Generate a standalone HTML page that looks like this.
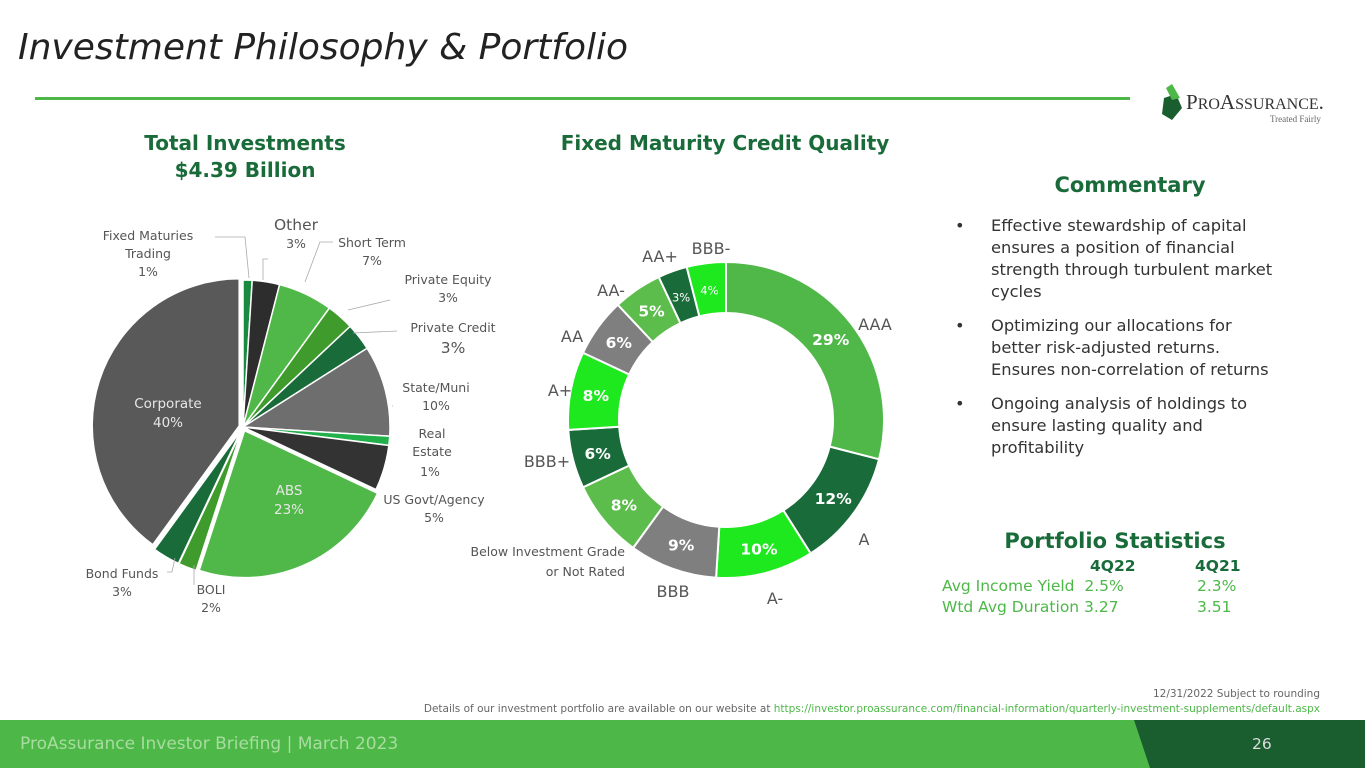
<!DOCTYPE html>
<html><head><meta charset="utf-8">
<style>
body{margin:0;width:1365px;height:768px;overflow:hidden;background:#fff;font-family:"DejaVu Sans","Liberation Sans",sans-serif;position:relative}
.abs{position:absolute}
svg text{font-family:"DejaVu Sans","Liberation Sans",sans-serif}
</style></head>
<body>
<div class="abs" style="left:18px;top:27px;font-size:36px;font-style:italic;color:#222">Investment Philosophy &amp; Portfolio</div>
<div class="abs" style="left:35px;top:97px;width:1095px;height:3px;background:#4db848"></div>
<div class="abs" style="left:1158px;top:84px;width:175px;height:40px">
<svg width="30" height="40" style="position:absolute;left:0;top:0"><polygon points="6,14 18,10 24,24 14,36 4,30" fill="#1a5e30"/><polygon points="8,4 14,0 22,14 14,16" fill="#4db848"/></svg>
<div class="abs" style="left:28px;top:6px;font-family:'Liberation Serif',serif;font-size:21px;color:#333">P<span style="font-size:16px">RO</span>A<span style="font-size:16px">SSURANCE</span>.</div>
<div class="abs" style="left:112px;top:30px;font-family:'Liberation Serif',serif;font-size:9px;color:#666">Treated Fairly</div>
</div>

<div class="abs" style="left:95px;top:130px;width:300px;text-align:center;font-size:20px;font-weight:bold;color:#1a6b3a;line-height:27px">Total Investments<br>$4.39 Billion</div>
<div class="abs" style="left:515px;top:131px;width:420px;text-align:center;font-size:20px;font-weight:bold;color:#1a6b3a">Fixed Maturity Credit Quality</div>

<svg class="abs" style="left:0;top:0" width="1365" height="720" id="charts"></svg>

<div class="abs" style="left:1000px;top:173px;width:260px;text-align:center;font-size:21px;font-weight:bold;color:#1a6b3a">Commentary</div>
<div class="abs" style="left:955px;top:215px;width:345px;font-size:16.3px;color:#333;line-height:22px">
<div style="position:relative;padding-left:36px;margin-bottom:12px"><span style="position:absolute;left:0">•</span>Effective stewardship of capital<br>ensures a position of financial<br>strength through turbulent market<br>cycles</div>
<div style="position:relative;padding-left:36px;margin-bottom:12px"><span style="position:absolute;left:0">•</span>Optimizing our allocations for<br>better risk-adjusted returns.<br>Ensures non-correlation of returns</div>
<div style="position:relative;padding-left:36px"><span style="position:absolute;left:0">•</span>Ongoing analysis of holdings to<br>ensure lasting quality and<br>profitability</div>
</div>

<div class="abs" style="left:980px;top:529px;width:270px;text-align:center;font-size:21px;font-weight:bold;color:#1a6b3a">Portfolio Statistics</div>
<div class="abs" style="left:1090px;top:557px;font-size:15.5px;font-weight:bold;color:#1a6b3a">4Q22</div>
<div class="abs" style="left:1195px;top:557px;font-size:15.5px;font-weight:bold;color:#1a6b3a">4Q21</div>
<div class="abs" style="left:942px;top:577px;font-size:15.5px;color:#4db848">Avg Income Yield&nbsp; 2.5%<span style="position:absolute;left:255px">2.3%</span></div>
<div class="abs" style="left:942px;top:598px;font-size:15.5px;color:#4db848;width:320px">Wtd Avg Duration 3.27<span style="position:absolute;left:255px">3.51</span></div>

<div class="abs" style="right:45px;top:688px;font-size:10.5px;color:#666">12/31/2022 Subject to rounding</div>
<div class="abs" style="right:45px;top:703px;font-size:10.5px;color:#666;white-space:nowrap">Details of our investment portfolio are available on our website at <span style="color:#4db848">https://investor.proassurance.com/financial-information/quarterly-investment-supplements/default.aspx</span></div>

<div class="abs" style="left:0;top:720px;width:1365px;height:48px;background:#4db848"></div>
<svg class="abs" style="left:0;top:720px" width="1365" height="48"><polygon points="1134,0 1365,0 1365,48 1150,48" fill="#1a5e30"/></svg>
<div class="abs" style="left:20px;top:734px;font-size:17px;color:#a8dca0">ProAssurance Investor Briefing | March 2023</div>
<div class="abs" style="left:1252px;top:735px;font-size:15.5px;color:#ddd">26</div>

<script>
const pieCats=["Fixed Maturities Trading","Other","Short Term","Private Equity","Private Credit","State/Muni","Real Estate","US Govt/Agency","ABS","BOLI","Bond Funds","Corporate"];
const pieVals=[1,3,6,3,3,10,1,5,23,2,3,40];
const pieLabels=["1%","3%","7%","3%","3%","10%","1%","5%","23%","2%","3%","40%"];
const pieColors=["#1a8a40","#2d2d2d","#50b848","#3f9c2c","#1a6b3a","#6e6e6e","#22b04a","#333333","#50b848","#3f9c2c","#1a6b3a","#595959"];
const donutCats=["AAA","A","A-","BBB","Below Investment Grade or Not Rated","BBB+","A+","AA","AA-","AA+","BBB-"];
const donutVals=[29,12,10,9,8,6,8,6,5,3,4];
const donutColors=["#50b848","#1a6b3a","#1ee81e","#7f7f7f","#5cbc4c","#1a6b3a","#1ee81e","#7f7f7f","#5cbc4c","#1a6b3a","#1ee81e"];

const svg=document.getElementById('charts');
const NS="http://www.w3.org/2000/svg";
function pt(cx,cy,r,a){return [cx+r*Math.sin(a),cy-r*Math.cos(a)];}
function mk(tag,attrs){const e=document.createElementNS(NS,tag);for(const k in attrs)e.setAttribute(k,attrs[k]);svg.appendChild(e);return e;}

// pie
(function(){
 const cx=243,cy=427,r=147,tot=pieVals.reduce((a,b)=>a+b,0);let a0=0;
 pieVals.forEach((v,i)=>{
  const a1=a0+v/tot*2*Math.PI;const mid=(a0+a1)/2;
  const off=i>=8?4:0;const ox=off*Math.sin(mid),oy=-off*Math.cos(mid);
  const p0=pt(cx+ox,cy+oy,r,a0),p1=pt(cx+ox,cy+oy,r,a1);
  const d=`M${cx+ox},${cy+oy}L${p0[0]},${p0[1]}A${r},${r} 0 ${a1-a0>Math.PI?1:0} 1 ${p1[0]},${p1[1]}Z`;
  const p=mk('path',{d:d,fill:pieColors[i],stroke:'#fff','stroke-width':1.5});
  
  
  a0=a1;
 });
 const inner=[[168,408,"Corporate","40%"],[289,495,"ABS","23%"]];
 inner.forEach(t=>{[t[2],t[3]].forEach((s,j)=>{const e=mk('text',{x:t[0],y:t[1]+j*19,'text-anchor':'middle','font-size':13.5,fill:'#e6e6e6'});e.textContent=s;
  
  });});
 const outer=[[148,240,["Fixed Maturies","Trading","1%"],12.5],[296,230,["Other"],15.5],[296,248,["3%"],12.5],[372,247,["Short Term","7%"],12.5],[448,284,["Private Equity","3%"],12.5],[453,332,["Private Credit"],12.5],[453,353,["3%"],15.5],[436,392,["State/Muni","10%"],12.5],[432,438,["Real","Estate"],12.5],[430,476,["1%"],12.5],[434,504,["US Govt/Agency","5%"],12.5],[122,578,["Bond Funds","3%"],12.5],[211,594,["BOLI","2%"],12.5]];
 outer.forEach(o=>{o[2].forEach((s,j)=>{const e=mk('text',{x:o[0],y:o[1]+j*18,'text-anchor':'middle','font-size':o[3],fill:'#555'});e.textContent=s;
  
  });});
 const lines=[[215,237,245,237,249,278],[268,259,263,259,263,280],[333,242,320,242,305,282],[390,300,348,310],[397,331,353,333],[393,406,392,406],[167,572,172,572,175,558],[194,585,194,565]];
 lines.forEach(l=>{let d='M'+l[0]+','+l[1];for(let k=2;k<l.length;k+=2)d+='L'+l[k]+','+l[k+1];const e=mk('path',{d:d,fill:'none',stroke:'#aaa','stroke-width':0.8});
  
  });
})();

// donut
(function(){
 const cx=726,cy=420,R=158,ri=107,tot=donutVals.reduce((a,b)=>a+b,0);let a0=0;
 donutVals.forEach((v,i)=>{
  const a1=a0+v/tot*2*Math.PI;const big=a1-a0>Math.PI?1:0;
  const o0=pt(cx,cy,R,a0),o1=pt(cx,cy,R,a1),i1=pt(cx,cy,ri,a1),i0=pt(cx,cy,ri,a0);
  const d=`M${o0[0]},${o0[1]}A${R},${R} 0 ${big} 1 ${o1[0]},${o1[1]}L${i1[0]},${i1[1]}A${ri},${ri} 0 ${big} 0 ${i0[0]},${i0[1]}Z`;
  const p=mk('path',{d:d,fill:donutColors[i],stroke:'#fff','stroke-width':2});
  
  
  const m=pt(cx,cy,(R+ri)/2,(a0+a1)/2);
  const small=v<=4;
  const t=mk('text',{x:m[0],y:m[1]+6,'text-anchor':'middle','font-size':small?11.5:15.5,'font-weight':small?'normal':'bold',fill:'#fff'});
  t.textContent=v+'%';
  
  
  a0=a1;
 });
 const cl=[[875,330,"AAA"],[864,545,"A"],[775,604,"A-"],[673,597,"BBB"],[547,467,"BBB+"],[560,396,"A+"],[572,342,"AA"],[611,296,"AA-"],[660,262,"AA+"],[711,254,"BBB-"]];
 cl.forEach(c=>{const e=mk('text',{x:c[0],y:c[1],'text-anchor':'middle','font-size':16,fill:'#555'});e.textContent=c[2];
  
  });
 [["Below Investment Grade",556],["or Not Rated",576]].forEach(s=>{const e=mk('text',{x:625,y:s[1],'text-anchor':'end','font-size':12.5,fill:'#555'});e.textContent=s[0];
  
  });
})();
</script>
</body></html>
